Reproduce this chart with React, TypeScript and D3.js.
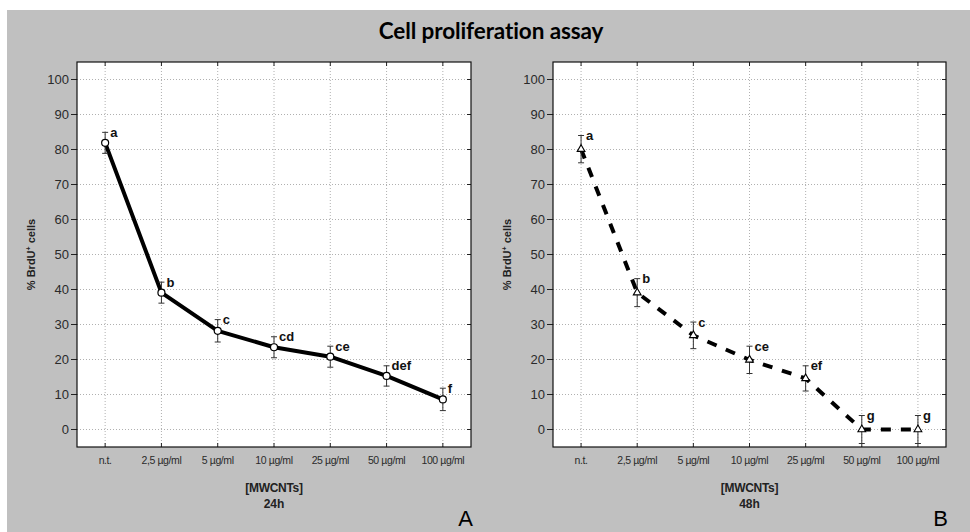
import React from "react";
import * as d3 from "d3";

const categories = ["n.t.", "2,5 µg/ml", "5 µg/ml", "10 µg/ml", "25 µg/ml", "50 µg/ml", "100 µg/ml"];
const yTicks = [0, 10, 20, 30, 40, 50, 60, 70, 80, 90, 100];

const mean24 = [81.9, 39.1, 28.2, 23.5, 20.8, 15.3, 8.6];
const err24 = [3.0, 3.0, 3.2, 3.0, 3.0, 2.9, 3.2];
const letters24 = ["a", "b", "c", "cd", "ce", "def", "f"];

const mean48 = [80.1, 39.1, 26.9, 19.9, 14.6, 0, 0];
const err48 = [3.9, 4.0, 3.8, 3.9, 3.6, 4.0, 4.0];
const letters48 = ["a", "b", "c", "ce", "ef", "g", "g"];

const W = 970;
const H = 532;
const FONT = "'Liberation Sans', Arial, Helvetica, sans-serif";

type PanelProps = {
  x0: number;
  x1: number;
  means: number[];
  errs: number[];
  letters: string[];
  marker: "circle" | "triangle";
  dashed: boolean;
  time: string;
  tag: string;
};

const top = 62;
const bottom = 447;

function Panel({ x0, x1, means, errs, letters, marker, dashed, time, tag }: PanelProps) {
  const x = d3.scalePoint<string>().domain(categories).range([x0, x1]).padding(0.5);
  const y = d3.scaleLinear().domain([-5, 105]).range([bottom, top]);
  const pts = categories.map((c, i) => [x(c) as number, y(means[i])] as [number, number]);
  const line = d3.line()(pts) || "";
  const cx = (x0 + x1) / 2;
  const tri = d3.symbol().type(d3.symbolTriangle).size(26)() || "";
  return (
    <g>
      <rect x={x0} y={top} width={x1 - x0} height={bottom - top} fill="#ffffff" />
      {yTicks.map((t) => (
        <line key={"gy" + t} x1={x0} x2={x1} y1={y(t)} y2={y(t)} stroke="#b0b0b0" strokeWidth={1} strokeDasharray="1 2" />
      ))}
      {categories.map((c) => (
        <line key={"gx" + c} x1={x(c)} x2={x(c)} y1={top} y2={bottom} stroke="#b0b0b0" strokeWidth={1} strokeDasharray="1 2" />
      ))}
      {yTicks.map((t) => (
        <g key={"ty" + t}>
          <line x1={x0 - 6} x2={x0} y1={y(t)} y2={y(t)} stroke="#222" strokeWidth={1} />
          <line x1={x1 - 4} x2={x1} y1={y(t)} y2={y(t)} stroke="#222" strokeWidth={1} />
          <text x={x0 - 8} y={y(t)} dy="0.36em" textAnchor="end" fontFamily={FONT} fontSize={13} fill="#2a2a2a">
            {t}
          </text>
        </g>
      ))}
      {categories.map((c) => (
        <g key={"tx" + c}>
          <line x1={x(c)} x2={x(c)} y1={top} y2={top + 4} stroke="#222" strokeWidth={1} />
          <line x1={x(c)} x2={x(c)} y1={bottom - 4} y2={bottom} stroke="#222" strokeWidth={1} />
          <text x={x(c)} y={464} textAnchor="middle" fontFamily={FONT} fontSize={10.5} letterSpacing={-0.4} fill="#2a2a2a">
            {c}
          </text>
        </g>
      ))}
      <rect x={x0} y={top} width={x1 - x0} height={bottom - top} fill="none" stroke="#111" strokeWidth={1.2} />
      <path
        d={line}
        fill="none"
        stroke="#000"
        strokeWidth={4}
        strokeLinejoin="round"
        strokeDasharray={dashed ? "10 10" : undefined}
      />
      {categories.map((c, i) => {
        const px = x(c) as number;
        const yt = y(means[i] + errs[i]);
        const yb = y(means[i] - errs[i]);
        return (
          <g key={"e" + c} stroke="#333" strokeWidth={1}>
            <line x1={px} x2={px} y1={yt} y2={yb} />
            <line x1={px - 3} x2={px + 3} y1={yt} y2={yt} />
            <line x1={px - 3} x2={px + 3} y1={yb} y2={yb} />
          </g>
        );
      })}
      {pts.map((p, i) =>
        marker === "circle" ? (
          <circle key={"m" + i} cx={p[0]} cy={p[1]} r={3.5} fill="#fff" stroke="#000" strokeWidth={1.2} />
        ) : (
          <path key={"m" + i} d={tri} transform={`translate(${p[0]},${p[1]})`} fill="#fff" stroke="#000" strokeWidth={1.1} />
        )
      )}
      {categories.map((c, i) => (
        <text
          key={"l" + c}
          x={(x(c) as number) + 5}
          y={y(means[i] + errs[i]) + 4.5}
          fontFamily={FONT}
          fontWeight="bold"
          fontSize={13}
          fill="#111"
        >
          {letters[i]}
        </text>
      ))}
      <text
        transform={`translate(${x0 - 42},${(top + bottom) / 2}) rotate(-90)`}
        textAnchor="middle"
        fontFamily={FONT}
        fontWeight="bold"
        fontSize={11}
        fill="#222"
      >
        % BrdU<tspan dy={-4} fontSize={7}>+</tspan>
        <tspan dy={4}> cells</tspan>
      </text>
      <text x={cx} y={492} textAnchor="middle" fontFamily={FONT} fontWeight="bold" fontSize={12} letterSpacing={-0.3} fill="#222">
        [MWCNTs]
      </text>
      <text x={cx} y={508} textAnchor="middle" fontFamily={FONT} fontWeight="bold" fontSize={12} fill="#222">
        {time}
      </text>
      <text x={x1 + 2} y={526} textAnchor="end" fontFamily={FONT} fontSize={22} fill="#000">
        {tag}
      </text>
    </g>
  );
}

export default function App() {
  return (
    <svg width={W} height={H} style={{ position: "absolute", left: 0, top: 0 }}>
      <rect x={0} y={0} width={W} height={H} fill="#ffffff" />
      <rect x={7} y={10} width={W - 7} height={H - 10} fill="#c0c0c0" />
      <text x={491} y={39} textAnchor="middle" fontFamily="Lato, sans-serif" fontWeight="bold" fontSize={22.5} letterSpacing={-0.1} fill="#000">
        Cell proliferation assay
      </text>
      <Panel x0={77} x1={471} means={mean24} errs={err24} letters={letters24} marker="circle" dashed={false} time="24h" tag="A" />
      <Panel x0={553} x1={946} means={mean48} errs={err48} letters={letters48} marker="triangle" dashed={true} time="48h" tag="B" />
    </svg>
  );
}
